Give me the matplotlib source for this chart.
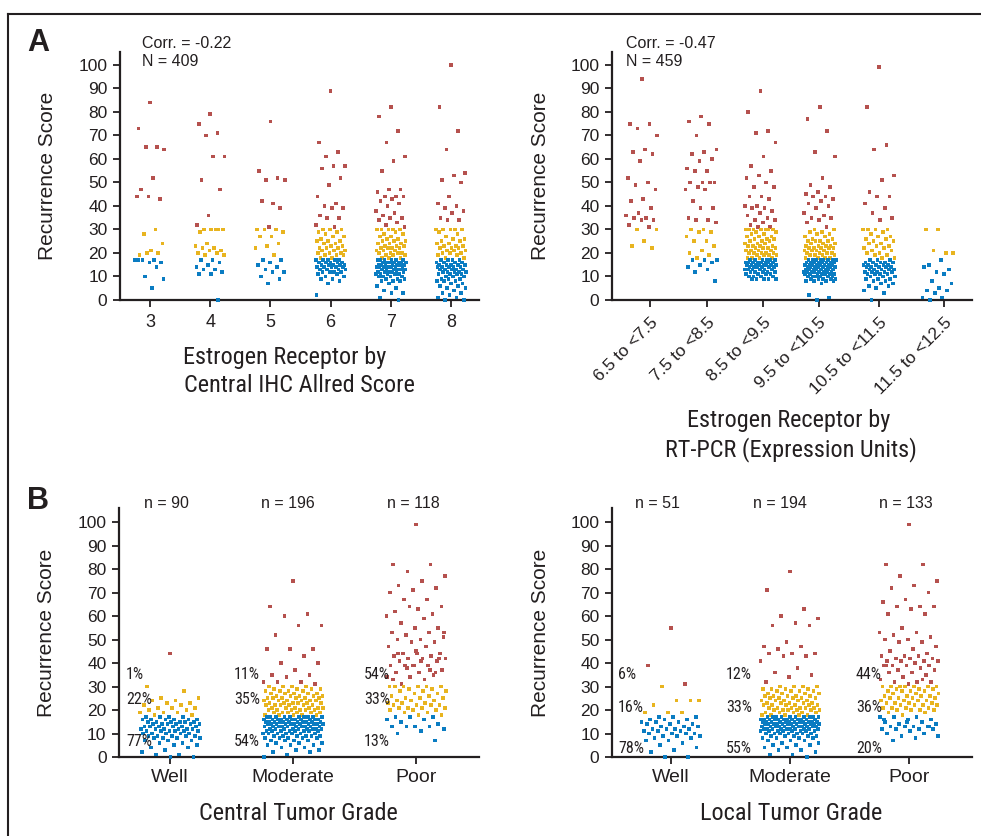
import numpy as np
import matplotlib
matplotlib.use("Agg")
import matplotlib.pyplot as plt
from matplotlib import font_manager
from matplotlib.lines import Line2D
from matplotlib.transforms import blended_transform_factory

# ---------------- data (Recurrence Scores) ----------------
ihc_categories = ["3", "4", "5", "6", "7", "8"]
ihc_3 = [84, 73, 65, 65, 64, 52, 47, 43, 44, 44,
         30, 28, 24, 21, 19, 20, 20,
         17, 17, 17, 16, 16, 17, 14, 10, 9, 5]
ihc_4 = [79, 75, 71, 70, 61, 61, 51, 47, 36, 32,
         30, 30, 30, 30, 29, 30, 24, 23, 22, 22, 21, 21, 20, 20, 19, 19,
         17, 17, 16, 15, 14, 13, 13, 12, 11, 11, 0]
ihc_5 = [76, 55, 52, 51, 51, 41, 42, 39, 31,
         30, 30, 30, 29, 27, 27, 24, 23, 22, 19,
         17, 17, 16, 15, 14, 13, 12, 12, 10, 9, 7]
ihc_6 = [89, 67, 63, 61, 57, 57, 56, 52, 49, 44, 41, 40, 39, 39, 36, 35, 35, 32, 31,
         30, 30, 30, 29, 29, 28, 27, 27, 26, 25, 25, 25, 24, 24, 23, 23, 22, 22, 22, 21, 21,
         21, 20, 20, 20, 19, 19, 19, 18, 18,
         17, 17, 17, 17, 17, 16, 16, 16, 16, 16, 15, 15, 15, 15, 15, 14, 14, 14, 14, 14,
         13, 13, 13, 13, 12, 12, 12, 12, 11, 11, 10, 10, 9, 9, 8, 7, 2]
ihc_7 = [82, 78, 72, 67, 61, 59, 55, 47, 47, 46, 44, 44, 44, 43, 42, 41, 40, 38, 37, 36,
         35, 35, 34, 33, 32, 31,
         30, 30, 30, 30, 30, 29, 28, 28, 27, 27, 26, 26, 25, 25, 25, 24, 24, 24, 23, 23,
         23, 22, 22, 22, 22, 21, 21, 21, 20, 20, 20, 20, 19, 19, 19, 18, 18, 18,
         17, 17, 17, 17, 17, 17, 16, 16, 16, 16, 16, 16, 16, 15, 15, 15, 15, 15, 15, 15,
         14, 14, 14, 14, 14, 14, 14, 13, 13, 13, 13, 13, 13, 12, 12, 12, 12, 12, 12,
         11, 11, 11, 11, 11, 10, 10, 10, 10, 9, 9, 9, 8, 8, 8, 7, 6, 5, 4, 3, 3, 1, 0]
ihc_8 = [100, 82, 72, 64, 54, 53, 51, 50, 44, 41, 40, 39, 38, 37, 35, 34, 34,
         30, 30, 30, 30, 30, 29, 28, 27, 26, 26, 25, 25, 24, 24, 23, 23, 23, 22, 22, 22,
         21, 21, 21, 20, 20, 20, 19, 19, 18, 18,
         17, 17, 17, 17, 16, 16, 16, 16, 15, 15, 15, 15, 15, 14, 14, 14, 14, 14,
         13, 13, 13, 13, 13, 12, 12, 12, 12, 12, 11, 11, 11, 11, 10, 10, 10, 9, 9, 9,
         8, 8, 8, 7, 7, 6, 6, 5, 5, 4, 3, 3, 2, 1, 1, 0, 0]

pcr_categories = ["6.5 to <7.5", "7.5 to <8.5", "8.5 to <9.5",
                  "9.5 to <10.5", "10.5 to <11.5", "11.5 to <12.5"]
pcr_1 = [94, 75, 75, 73, 70, 64, 63, 62, 59, 52, 50, 49, 47, 43, 42, 39, 37, 36, 35, 35,
         34, 34, 32, 31,
         30, 30, 25, 23, 22]
pcr_2 = [78, 76, 75, 70, 64, 63, 62, 60, 59, 56, 55, 55, 50, 50, 50, 50, 48, 47, 47, 42,
         39, 39, 35, 34, 34, 33,
         30, 30, 29, 29, 27, 25, 25, 23, 21, 20, 19, 18,
         17, 17, 17, 16, 15, 14, 13, 12, 8]
pcr_3 = [89, 80, 72, 71, 67, 61, 57, 55, 53, 52, 50, 48, 48, 44, 44, 43, 40, 40, 39, 39,
         38, 37, 36, 35, 34, 34, 33, 32, 31, 31,
         30, 30, 30, 30, 30, 30, 30, 29, 29, 28, 28, 27, 27, 27, 26, 26, 26, 25, 25, 25,
         24, 24, 24, 23, 23, 23, 23, 22, 22, 22, 22, 21, 21, 21, 21, 20, 20, 20, 20, 20,
         19, 19, 19, 19, 18, 18, 18, 18,
         17, 17, 17, 17, 17, 17, 16, 16, 16, 16, 16, 16, 16, 16, 15, 15, 15, 15, 15, 15,
         15, 15, 14, 14, 14, 14, 14, 14, 13, 13, 13, 13, 13, 13, 12, 12, 12, 12, 12,
         11, 11, 11, 11, 10, 10, 10, 10, 9, 9, 9, 9, 9]
pcr_4 = [82, 77, 72, 63, 61, 52, 49, 48, 46, 45, 44, 44, 43, 42, 41, 40, 39, 37, 36, 35,
         35, 34, 33, 31,
         30, 30, 29, 29, 28, 28, 27, 27, 26, 26, 25, 25, 25, 25, 24, 24, 24, 23, 23, 23,
         23, 22, 22, 22, 22, 22, 21, 21, 21, 21, 20, 20, 20, 20, 19, 19, 19, 19,
         18, 18, 18, 18,
         17, 17, 17, 17, 17, 17, 17, 17, 16, 16, 16, 16, 16, 16, 16, 16,
         15, 15, 15, 15, 15, 15, 15, 15, 14, 14, 14, 14, 14, 14, 14, 14,
         13, 13, 13, 13, 13, 13, 13, 13, 12, 12, 12, 12, 12, 12, 12, 12,
         11, 11, 11, 11, 11, 11, 11, 10, 10, 10, 10, 10, 10, 9, 9, 9, 9, 9,
         8, 8, 8, 8, 7, 2, 1, 0]
pcr_5 = [99, 82, 66, 64, 53, 51, 46, 44, 44, 41, 39, 37, 35, 34,
         30, 30, 30, 30, 29, 28, 27, 27, 26, 26, 25, 25, 24, 24, 23, 23, 22, 22, 21, 21,
         20, 20, 19, 19, 18, 18,
         17, 17, 17, 16, 16, 16, 16, 16, 15, 15, 15, 15, 15, 14, 14, 14, 14, 14,
         13, 13, 13, 13, 13, 12, 12, 12, 12, 12, 11, 11, 11, 11, 10, 10, 10, 9, 9, 9,
         8, 8, 7, 7, 6, 6, 5, 4, 3, 0]
pcr_6 = [30, 30, 20, 21, 20,
         17, 15, 13, 12, 14, 11, 8, 7, 5, 4, 4, 3, 1, 1, 0]

grade_categories = ["Well", "Moderate", "Poor"]
central_well = [44,
                30, 28, 25, 25, 24, 24, 23, 23, 22, 22, 21, 21, 21, 20, 20, 19, 19, 19, 18, 18,
                17, 17, 17, 17, 16, 16, 16, 16, 16, 16, 15, 15, 15, 15, 15, 15,
                14, 14, 14, 14, 14, 14, 13, 13, 13, 13, 13, 13, 12, 12, 12, 12, 12, 12,
                11, 11, 11, 11, 11, 11, 10, 10, 10, 10, 10, 9, 9, 9, 9, 9,
                8, 8, 8, 8, 7, 7, 7, 6, 6, 5, 5, 4, 4, 3, 2, 1, 1, 0, 0]
central_moderate = [75, 64, 61, 60, 56, 56, 52, 46, 46, 46, 43, 40, 40, 37, 35, 35, 34, 32,
                    32, 32, 31,
                    30, 30, 30, 30, 29, 29, 29, 29, 28, 28, 28, 28, 27, 27, 27, 27, 27,
                    26, 26, 26, 26, 26, 25, 25, 25, 25, 25, 25, 24, 24, 24, 24, 24, 24,
                    23, 23, 23, 23, 23, 23, 22, 22, 22, 22, 22, 22, 21, 21, 21, 21, 21, 21,
                    20, 20, 20, 20, 20, 20, 19, 19, 19, 19, 19, 19, 18, 18, 18, 18, 18,
                    17, 17, 17, 17, 17, 17, 17, 17, 17, 17, 16, 16, 16, 16, 16, 16, 16, 16,
                    16, 16, 16, 15, 15, 15, 15, 15, 15, 15, 15, 15, 15, 15,
                    14, 14, 14, 14, 14, 14, 14, 14, 14, 14, 14, 13, 13, 13, 13, 13, 13, 13,
                    13, 13, 13, 12, 12, 12, 12, 12, 12, 12, 12, 12, 11, 11, 11, 11, 11, 11,
                    11, 11, 10, 10, 10, 10, 10, 10, 10, 9, 9, 9, 9, 9, 9, 8, 8, 8, 8, 8,
                    7, 7, 7, 7, 6, 6, 6, 5, 5, 5, 4, 4, 3, 3, 2, 2, 1, 0]
central_poor = [99, 82, 82, 79, 77, 75, 73, 72, 71, 70, 67, 67, 64, 63, 62, 61, 64, 60, 59,
                57, 55, 55, 53, 53, 52, 51, 50, 50, 49, 49, 47, 47, 44, 44, 44, 43, 43, 42,
                42, 42, 41, 41, 39, 39, 39, 39, 37, 36, 36, 35, 34, 34, 33, 31, 42, 45, 33,
                37, 38, 53, 41, 44, 36, 39,
                30, 30, 30, 30, 30, 30, 29, 29, 28, 28, 28, 27, 27, 26, 26, 25, 25, 25,
                24, 24, 24, 23, 23, 23, 22, 22, 22, 22, 21, 21, 21, 21, 20, 20, 20, 19, 19,
                18, 18,
                17, 17, 17, 16, 16, 15, 14, 13, 13, 13, 13, 12, 11, 10, 7]

local_well = [55, 39, 31,
              30, 24, 24, 22, 24, 19, 19, 19,
              17, 17, 17, 16, 16, 16, 15, 15, 15, 14, 14, 14, 13, 13, 13, 12, 12, 12, 12,
              11, 11, 11, 10, 10, 10, 10, 9, 9, 9, 8, 8, 7, 7, 6, 5, 4, 3, 2, 0, 0]
local_moderate = [79, 71, 63, 60, 59, 57, 56, 56, 49, 47, 47, 46, 44, 44, 44, 43, 43, 41,
                  38, 36, 35, 34, 32,
                  30, 30, 30, 30, 29, 29, 29, 29, 28, 28, 28, 28, 27, 27, 27, 27,
                  26, 26, 26, 26, 26, 25, 25, 25, 25, 25, 24, 24, 24, 24, 24,
                  23, 23, 23, 23, 23, 22, 22, 22, 22, 22, 22, 21, 21, 21, 21, 21, 21,
                  20, 20, 20, 20, 20, 20, 19, 19, 19, 19, 19, 18, 18, 18, 18, 18,
                  17, 17, 17, 17, 17, 17, 17, 17, 17, 17, 16, 16, 16, 16, 16, 16, 16, 16,
                  16, 16, 16, 16, 15, 15, 15, 15, 15, 15, 15, 15, 15, 15, 15, 15,
                  14, 14, 14, 14, 14, 14, 14, 14, 14, 14, 14, 14, 13, 13, 13, 13, 13, 13,
                  13, 13, 13, 13, 13, 12, 12, 12, 12, 12, 12, 12, 12, 12, 12,
                  11, 11, 11, 11, 11, 11, 11, 11, 10, 10, 10, 10, 10, 10, 10,
                  9, 9, 9, 9, 9, 8, 8, 8, 8, 7, 7, 7, 6, 6, 5, 5, 5, 4, 4, 3, 3, 2, 1, 1, 0]
local_poor = [99, 82, 82, 77, 75, 73, 72, 70, 67, 66, 64, 64, 64, 63, 61, 61, 55, 53, 53,
              52, 51, 50, 50, 49, 49, 47, 46, 45, 44, 43, 43, 43, 42, 42, 42, 41, 41, 41,
              41, 40, 39, 39, 39, 39, 38, 37, 37, 36, 36, 35, 34, 33, 32, 32, 32, 31, 39, 33,
              30, 30, 30, 30, 30, 30, 30, 29, 29, 29, 28, 28, 28, 28, 27, 27, 27,
              26, 26, 26, 26, 25, 25, 25, 25, 24, 24, 24, 24, 23, 23, 23, 23,
              22, 22, 22, 22, 21, 21, 21, 21, 20, 20, 20, 20, 19, 19, 18,
              17, 17, 17, 16, 16, 15, 15, 14, 14, 13, 13, 13, 13, 12, 12, 12, 12, 11,
              10, 10, 9, 9, 8, 7, 13, 15, 16]

central_pct = [["1%", "22%", "77%"], ["11%", "35%", "54%"], ["54%", "33%", "13%"]]
local_pct = [["6%", "16%", "78%"], ["12%", "33%", "55%"], ["44%", "36%", "20%"]]
central_n = ["n = 90", "n = 196", "n = 118"]
local_n = ["n = 51", "n = 194", "n = 133"]
corr_lines = [["Corr. = -0.22", "N = 409"], ["Corr. = -0.47", "N = 459"]]

# ---------------- style ----------------
RED = "#b5514e"
YEL = "#e8b41f"
BLU = "#0a7cc2"
INK = "#231f20"


def font_file(name, stretch="normal"):
    try:
        return font_manager.findfont(font_manager.FontProperties(family=name, stretch=stretch),
                                     fallback_to_default=False)
    except Exception:
        return None


MAIN = "Liberation Sans" if font_file("Liberation Sans") else "DejaVu Sans"
NARROW = None
for cand in ("Liberation Sans Narrow", "Arial Narrow", "Roboto Condensed"):
    f = font_file(cand)
    if f and ("Narrow" in f or "Condensed" in f):
        NARROW = cand
        break
if NARROW:
    TITLE_FONT, TITLE_SIZE, PCT_SIZE = [NARROW, "DejaVu Sans"], 17.5, 11.5
else:
    TITLE_FONT, TITLE_SIZE, PCT_SIZE = [MAIN, "DejaVu Sans"], 15, 10.5

plt.rcParams["font.family"] = [MAIN, "DejaVu Sans"]
plt.rcParams["text.color"] = INK

W, H = 981, 836
fig = plt.figure(figsize=(W / 100, H / 100), dpi=100)
fig.patch.set_facecolor("white")


def px_axes(left, right, bottom, top):
    return fig.add_axes([left / W, 1 - bottom / H, (right - left) / W, (bottom - top) / H])


def fx(x):
    return x / W


def fy(y):
    return 1 - y / H


def color_of(v):
    return np.where(v >= 31, RED, np.where(v >= 18, YEL, BLU))


def draw_groups(ax, groups, half):
    for i, vals in enumerate(groups):
        v = np.asarray(vals, dtype=float)
        k = np.arange(len(v))
        off = ((k * 0.6180339887 + 0.5) % 1.0 - 0.5) * 2 * half
        ax.scatter(i + off, v, s=7, c=color_of(v), marker="s", linewidths=0,
                   clip_on=False, zorder=3)


def style_axes(ax, ytop, label_x):
    for s in ("top", "right"):
        ax.spines[s].set_visible(False)
    for s in ("left", "bottom"):
        ax.spines[s].set_linewidth(1.6)
        ax.spines[s].set_color(INK)
    ax.set_ylim(0, ytop)
    ax.set_yticks(range(0, 101, 10))
    ax.tick_params(axis="both", direction="out", length=5, width=1.3, color=INK,
                   labelcolor=INK)
    ax.tick_params(axis="y", labelsize=12.5, pad=4)
    ax.set_ylabel("Recurrence Score", fontsize=15, color=INK)
    ax.yaxis.set_label_coords(label_x, 0.5)


# Panel A left
axA1 = px_axes(120, 479, 300, 52)
draw_groups(axA1, [ihc_3, ihc_4, ihc_5, ihc_6, ihc_7, ihc_8], 0.25)
style_axes(axA1, 105.5, (57 - 120) / 359)
axA1.set_xlim(-0.5, 5.465)
axA1.set_xticks(range(len(ihc_categories)))
axA1.set_xticklabels(ihc_categories, fontsize=13)
axA1.tick_params(axis="x", pad=5)

# Panel A right
axA2 = px_axes(612, 972, 300, 52)
draw_groups(axA2, [pcr_1, pcr_2, pcr_3, pcr_4, pcr_5, pcr_6], 0.27)
style_axes(axA2, 105.5, (550 - 612) / 360)
axA2.set_xlim(-0.507, 5.57)
axA2.set_xticks([0.14, 1.10, 2.04, 2.98, 4.0, 5.10])
axA2.set_xticklabels(pcr_categories, fontsize=12.5, rotation=45, ha="right",
                     va="top", rotation_mode="anchor")
axA2.tick_params(axis="x", pad=6)

# Panel B left
axB1 = px_axes(119, 479, 757, 508)
draw_groups(axB1, [central_well, central_moderate, central_poor], 0.245)
style_axes(axB1, 106, (56 - 119) / 360)
axB1.set_xlim(-0.415, 2.51)
axB1.set_xticks(range(3))
axB1.set_xticklabels(grade_categories, fontsize=14)
axB1.tick_params(axis="x", pad=4)

# Panel B right
axB2 = px_axes(612, 972, 757, 508)
draw_groups(axB2, [local_well, local_moderate, local_poor], 0.25)
style_axes(axB2, 106, (550 - 612) / 360)
axB2.set_xlim(-0.496, 2.53)
axB2.set_xticks(range(3))
axB2.set_xticklabels(grade_categories, fontsize=14)
axB2.tick_params(axis="x", pad=4)

# percentages and n labels
pct_y_central = [35.3, 24.3, 6.4]
pct_y_local = [35.3, 20.9, 3.8]
pct_dx_central = [-0.358, -0.48, -0.423]
pct_dx_local = [-0.445, -0.538, -0.445]
for ax, pcts, ys, dxs in ((axB1, central_pct, pct_y_central, pct_dx_central),
                          (axB2, local_pct, pct_y_local, pct_dx_local)):
    for i, col in enumerate(pcts):
        for lab, yv in zip(col, ys):
            ax.text(i + dxs[i], yv, lab, ha="left", va="center", fontsize=PCT_SIZE,
                    family=TITLE_FONT, color=INK, zorder=4)

n_dx_central = [-0.033, -0.04, -0.02]
n_dx_local = [-0.11, -0.085, -0.025]
for ax, labs, dxs in ((axB1, central_n, n_dx_central), (axB2, local_n, n_dx_local)):
    tr = blended_transform_factory(ax.transData, ax.transAxes)
    for i, lab in enumerate(labs):
        ax.text(i + dxs[i], 1.02, lab, transform=tr, ha="center", va="center",
                fontsize=11.5, color=INK)

# correlation texts
for (l1, l2), xpix in zip(corr_lines, (142, 626)):
    fig.text(fx(xpix), fy(43), l1, fontsize=11.5, va="center", ha="left")
    fig.text(fx(xpix), fy(61.5), l2, fontsize=11.5, va="center", ha="left")

# axis titles (condensed look)
kw = dict(fontsize=TITLE_SIZE, family=TITLE_FONT, ha="center", va="center")
fig.text(fx(285), fy(358), "Estrogen Receptor by", **kw)
fig.text(fx(299), fy(385), "Central IHC Allred Score", **kw)
fig.text(fx(789), fy(421), "Estrogen Receptor by", **kw)
fig.text(fx(791), fy(450), "RT-PCR (Expression Units)", **kw)
fig.text(fx(298), fy(814), "Central Tumor Grade", **kw)
fig.text(fx(791), fy(814), "Local Tumor Grade", **kw)

# panel letters
fig.text(fx(38), fy(43), "A", fontsize=22, fontweight="bold", ha="center", va="center")
fig.text(fx(38), fy(501), "B", fontsize=22, fontweight="bold", ha="center", va="center")

# frame (top and left)
fig.add_artist(Line2D([fx(8), fx(981)], [fy(14), fy(14)], color=INK, lw=1.5))
fig.add_artist(Line2D([fx(8), fx(8)], [fy(14), fy(836)], color=INK, lw=1.5))

fig.savefig("out.png", dpi=100, facecolor="white")
